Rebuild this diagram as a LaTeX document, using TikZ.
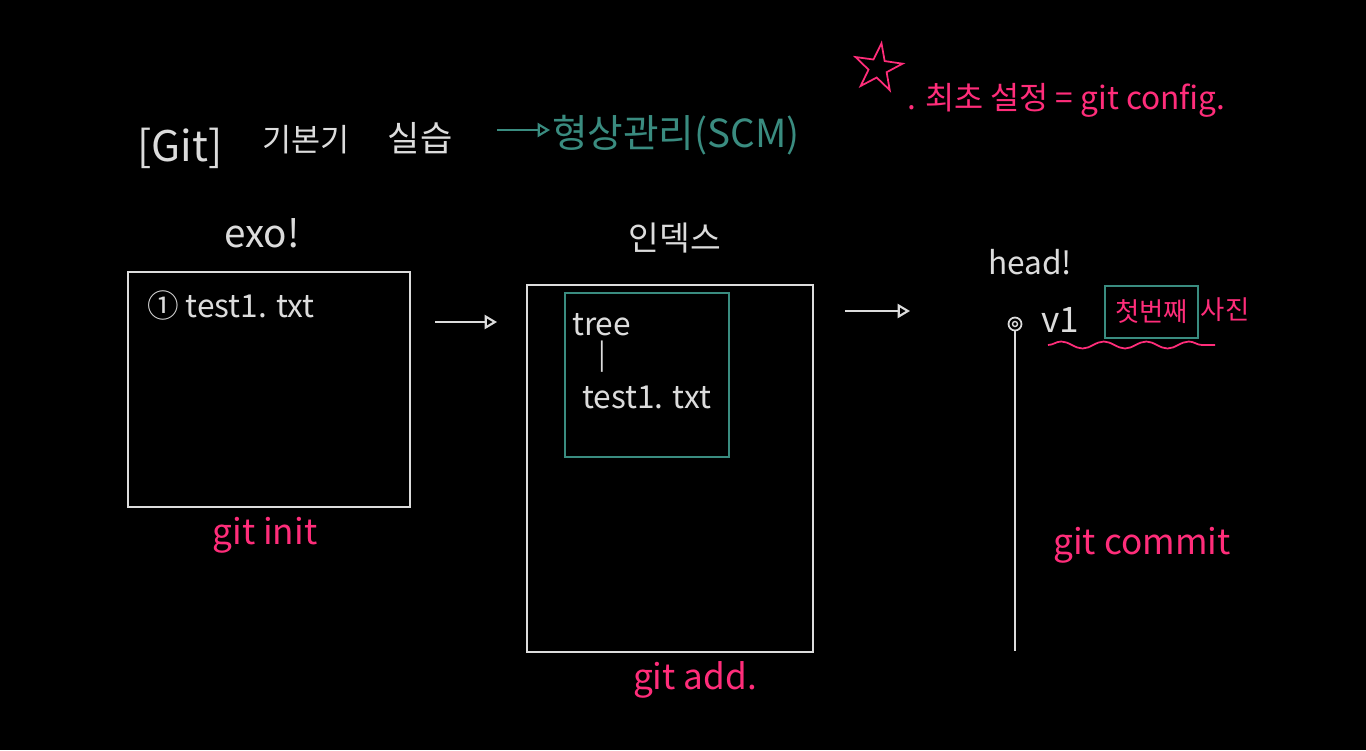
\documentclass[tikz,border=0pt]{standalone}
\usepackage{fontspec}
\setmainfont{Noto Sans CJK KR}
\usetikzlibrary{shapes,arrows,arrows.meta,positioning,decorations.pathmorphing}
\definecolor{chalk}{HTML}{DCDCDC}
\definecolor{tealink}{HTML}{3A8C80}
\definecolor{pinkink}{HTML}{FF2D7A}
\tikzset{
    board/.style={draw=chalk, line width=1.2pt},
    chalktext/.style={text=chalk, inner sep=1pt},
    pinktext/.style={text=pinkink, inner sep=1pt},
    handarrow/.style={draw=chalk, line width=1.2pt, -{Triangle[open, length=7pt, width=8pt]}}
}

\begin{document}
\begin{tikzpicture}
    % Background
    \fill[black] (0,0) rectangle (27.32,-15);
    \useasboundingbox (0,0) rectangle (27.32,-15);

    % Title
    \node[chalktext, font=\fontsize{24}{28}\selectfont] (gittag) at (3.6,-2.96) {[Git]};
    \node[chalktext, font=\fontsize{18}{22}\selectfont] (basics) at (6.12,-2.8) {기본기};
    \node[chalktext, font=\fontsize{20}{24}\selectfont] (practice) at (8.4,-2.76) {실습};
    \node[text=tealink, inner sep=1pt, anchor=west, font=\fontsize{22}{26}\selectfont] (scm) at (11.0,-2.7) {형상관리(SCM)};
    \coordinate (scmfrom) at (9.94,-2.6);
    \draw[handarrow, draw=tealink] (scmfrom) -- (scmfrom -| scm.west);

    % Initial setup note
    \node[star, star points=5, star point ratio=2.6, draw=pinkink, line width=1pt, minimum size=1.0cm, rotate=-8] (mark) at (17.56,-1.36) {};
    \node[pinktext, anchor=west, font=\fontsize{18}{22}\selectfont] (config) at (18.1,-2.0) {. 최초 설정 = git config.};

    % Working directory
    \node[chalktext, font=\fontsize{22}{26}\selectfont] (worklabel) at (5.24,-4.66) {exo!};
    \node[board, minimum width=5.64cm, minimum height=4.7cm] (work) at (5.38,-7.79) {};
    \node[chalktext, anchor=west, font=\fontsize{18}{22}\selectfont] (workfile) at (2.9,-6.1) {① test1. txt};
    \node[pinktext, font=\fontsize{20}{24}\selectfont] (init) at (5.3,-10.7) {git init};

    % Index
    \node[chalktext, font=\fontsize{19}{23}\selectfont] (indexlabel) at (13.5,-4.76) {인덱스};
    \node[board, minimum width=5.72cm, minimum height=7.34cm] (index) at (13.4,-9.37) {};
    \node[draw=tealink, line width=1pt, minimum width=3.28cm, minimum height=3.28cm] (tree) at (12.94,-7.5) {};
    \node[chalktext, anchor=west, font=\fontsize{18}{22}\selectfont] (treename) at (11.4,-6.5) {tree};
    \node[chalktext, font=\fontsize{16}{20}\selectfont] (treebar) at (12.04,-7.14) {|};
    \node[chalktext, anchor=west, font=\fontsize{18}{22}\selectfont] (treefile) at (11.6,-7.94) {test1. txt};
    \node[pinktext, font=\fontsize{20}{24}\selectfont] (add) at (13.9,-13.6) {git add.};

    % Repository
    \node[chalktext, font=\fontsize{18}{22}\selectfont] (headlabel) at (20.6,-5.24) {head!};
    \node[circle, draw=chalk, line width=1pt, minimum size=0.26cm, inner sep=0pt] (commit) at (20.3,-6.48) {};
    \node[circle, draw=chalk, line width=0.8pt, minimum size=0.1cm, inner sep=0pt] (commitdot) at (commit) {};
    \coordinate (lineend) at (20.3,-13.02);
    \draw[draw=chalk, line width=1.2pt] (commit.south) -- (lineend);
    \node[chalktext, font=\fontsize{20}{24}\selectfont] (version) at (21.2,-6.4) {v1};
    \node[draw=tealink, line width=1pt, minimum width=1.86cm, minimum height=1.04cm, text=pinkink, font=\fontsize{15}{18}\selectfont] (first) at (23.03,-6.24) {첫번째};
    \node[pinktext, font=\fontsize{15}{18}\selectfont] (photo) at (24.5,-6.2) {사진};
    \coordinate (wavefrom) at (20.96,-6.9);
    \coordinate (waveto) at (24.3,-6.9);
    \draw[draw=pinkink, line width=1pt, decorate, decoration={snake, amplitude=0.07cm, segment length=0.85cm}] (wavefrom) -- (waveto);
    \node[pinktext, font=\fontsize{20}{24}\selectfont] (commitcmd) at (22.84,-10.9) {git commit};

    % Flow between areas
    \coordinate (workout) at (8.7,-6.44);
    \coordinate (indexin) at (9.94,-6.44);
    \coordinate (indexout) at (16.9,-6.22);
    \coordinate (repoin) at (18.2,-6.22);
    \draw[handarrow] (workout) -- (indexin);
    \draw[handarrow] (indexout) -- (repoin);
\end{tikzpicture}
\end{document}
